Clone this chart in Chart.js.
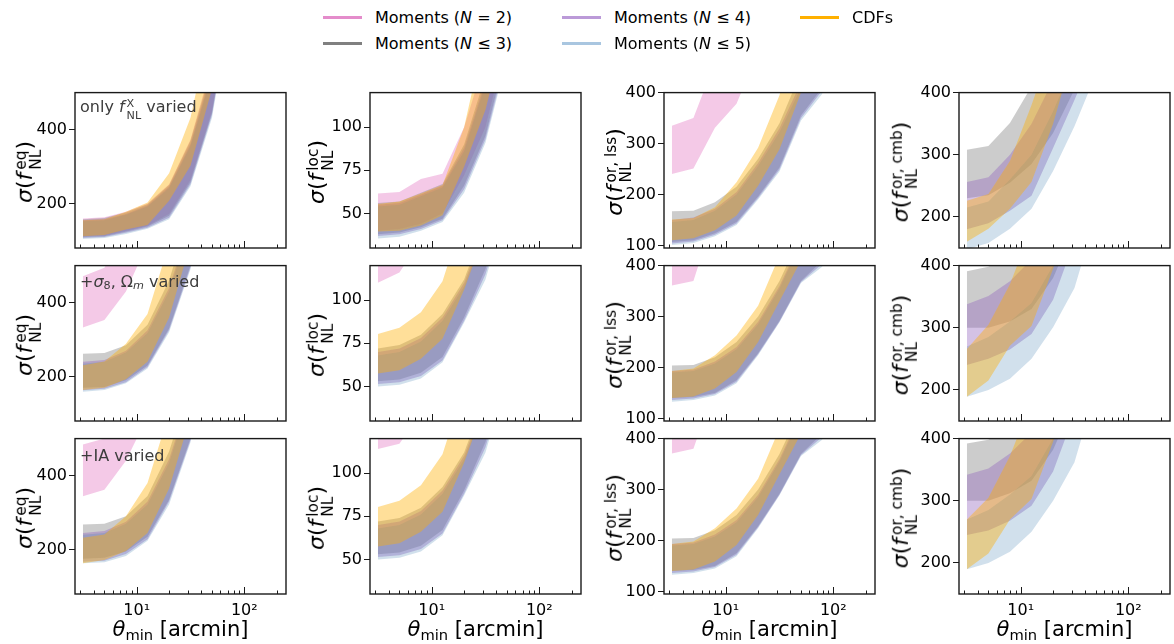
<!DOCTYPE html>
<html>
<head>
<meta charset="utf-8">
<script src="https://cdn.jsdelivr.net/npm/chart.js@4.4.1/dist/chart.umd.min.js"></script>
<style>
  body { margin: 0; background: #fff; width: 1174px; height: 644px; position: relative; overflow: hidden;
         font-family: "DejaVu Sans", sans-serif; color: #000; }
  canvas { position: absolute; }
  .t { position: absolute; white-space: nowrap; }
  .ss { display: inline-flex; flex-direction: column; font-size: 0.7em; line-height: 1; vertical-align: 0.42em; margin-left: 3px; }
  .sb { font-size: 0.7em; vertical-align: -0.25em; }
  .ylab { font-size: 22px; transform: translate(-50%, -50%) rotate(-90deg); }
  .xlab { font-size: 21px; transform: translate(-50%, -50%); }
  .note { font-size: 16px; color: #3c3c3c; transform: translateY(-50%); }
  .note .ss { margin-left: 2px; }
  .leg { font-size: 16px; transform: translateY(-50%); }
  .swatch { position: absolute; height: 3px; width: 39px; }
</style>
</head>
<body>
<script>
// theta_min grid (arcmin)
const thetaMin = [3.16, 5.01, 7.94, 12.6, 20, 31.6, 50.1, 79.4];

// series order in every panel: Moments N=2, N<=3, N<=4, N<=5, CDFs
const seriesLabels = ['Moments (<i>N</i> = 2)', 'Moments (<i>N</i> ≤ 3)', 'Moments (<i>N</i> ≤ 4)', 'Moments (<i>N</i> ≤ 5)', 'CDFs'];

// ---- row 1: only f_NL varied ----
const eqOnlyLo = [
  [112, 114, 126, 140, 172, 264, 450, 800],
  [110, 112, 124, 138, 167, 258, 445, 790],
  [107, 110, 121, 135, 162, 252, 440, 780],
  [104, 107, 118, 132, 158, 247, 432, 770],
  [112, 115, 130, 142, 208, 302, 510, 880]];
const eqOnlyHi = [
  [160, 163, 178, 200, 252, 373, 580, 950],
  [158, 161, 176, 198, 250, 370, 570, 930],
  [155, 158, 172, 195, 246, 362, 560, 910],
  [152, 155, 170, 192, 242, 356, 550, 900],
  [155, 158, 178, 203, 282, 432, 700, 1100]];

const locOnlyLo = [
  [40, 41, 44, 50, 72, 100, 150, 230],
  [38, 39, 42, 47, 66, 95, 145, 220],
  [37, 38, 41, 46, 64, 93, 142, 215],
  [35.5, 36.5, 40, 45, 62, 91, 140, 210],
  [39.5, 40, 43, 49, 77, 110, 160, 240]];
const locOnlyHi = [
  [61.5, 62.5, 70, 73, 100, 140, 200, 300],
  [56, 57, 62, 67, 90, 130, 190, 280],
  [55, 56, 61, 66, 88, 127, 185, 270],
  [54, 55, 60, 65, 86, 125, 180, 265],
  [55.5, 57, 61.5, 66.5, 100, 155, 220, 320]];

const lssOnlyLo = [
  [240, 251, 331, 378, 480, 600, 800, 1000],
  [107, 110, 124, 146, 196, 253, 355, 410],
  [104, 108, 121, 143, 193, 249, 350, 405],
  [101, 105, 118, 140, 190, 245, 345, 398],
  [110, 114, 130, 159, 217, 289, 400, 550]];
const lssOnlyHi = [
  [335, 350, 460, 520, 650, 800, 1000, 1200],
  [167, 168, 185, 215, 270, 340, 440, 580],
  [150, 155, 172, 205, 262, 330, 420, 560],
  [146, 150, 168, 200, 256, 322, 410, 550],
  [151, 154, 175, 224, 292, 395, 560, 760]];

const cmbOnlyLo = [
  [420, 450, 520, 600, 700, 800, 900, 1000],
  [230, 235, 255, 285, 335, 405, 480, 560],
  [180, 190, 210, 234, 311, 388, 470, 560],
  [148, 158, 181, 213, 274, 346, 430, 520],
  [160, 181, 213, 256, 350, 470, 560, 660]];
const cmbOnlyHi = [
  [520, 560, 640, 720, 820, 920, 1020, 1120],
  [308, 314, 351, 410, 500, 600, 700, 800],
  [256, 264, 300, 350, 420, 500, 600, 700],
  [215, 225, 260, 300, 370, 450, 550, 650],
  [226, 237, 290, 380, 480, 580, 680, 780]];

// ---- row 2: + sigma8, Omega_m varied ----
const eqS8Lo = [
  [333, 353, 430, 560, 700, 900, 1100, 1300],
  [170, 172, 190, 230, 330, 500, 800, 1100],
  [163, 167, 185, 226, 325, 495, 790, 1100],
  [159, 164, 182, 222, 320, 490, 780, 1100],
  [164, 170, 193, 240, 360, 560, 800, 1100]];
const eqS8Hi = [
  [471, 494, 600, 750, 900, 1100, 1300, 1500],
  [262, 264, 285, 340, 460, 650, 900, 1200],
  [240, 245, 270, 325, 440, 620, 880, 1150],
  [235, 240, 265, 318, 430, 610, 860, 1130],
  [231, 241, 289, 369, 560, 800, 1100, 1400]];

const locS8Lo = [
  [110, 116, 135, 155, 175, 200, 240, 290],
  [53, 54, 58, 67, 90, 118, 160, 210],
  [51.5, 52.5, 56, 65, 88, 115, 157, 205],
  [50, 51, 54.6, 64, 87, 112, 155, 200],
  [57.5, 59.4, 66, 77.6, 106, 140, 190, 250]];
const locS8Hi = [
  [140, 150, 165, 180, 200, 230, 270, 320],
  [72, 74, 80, 92, 112, 145, 190, 240],
  [70, 72, 78, 90, 110, 142, 185, 235],
  [68, 70, 76, 88, 108, 140, 182, 230],
  [80.4, 84, 93, 111, 150, 200, 260, 330]];

const lssS8Lo = [
  [361, 370, 500, 600, 700, 800, 1000, 1200],
  [140, 142, 150, 175, 228, 292, 370, 410],
  [136, 139, 148, 172, 226, 290, 368, 404],
  [133, 136, 145, 169, 224, 289, 366, 398],
  [140, 143, 159, 191, 250, 330, 410, 520]];
const lssS8Hi = [
  [480, 500, 600, 700, 800, 950, 1150, 1400],
  [204, 205, 220, 250, 300, 370, 460, 560],
  [193, 196, 212, 240, 290, 360, 450, 550],
  [190, 193, 208, 236, 285, 355, 445, 540],
  [193, 198, 224, 263, 321, 420, 540, 680]];

const cmbS8Lo = [
  [450, 480, 540, 620, 700, 800, 900, 1000],
  [300, 300, 310, 330, 380, 460, 540, 620],
  [240, 250, 265, 290, 345, 440, 520, 600],
  [189, 200, 218, 250, 301, 364, 480, 560],
  [189, 215, 271, 303, 395, 500, 600, 700]];
const cmbS8Hi = [
  [560, 600, 660, 740, 820, 920, 1020, 1120],
  [391, 398, 420, 480, 560, 640, 720, 800],
  [338, 351, 375, 410, 480, 560, 640, 720],
  [270, 285, 310, 340, 400, 470, 560, 650],
  [266, 305, 370, 460, 560, 660, 760, 860]];

// ---- row 3: + IA varied ----
const eqIALo = [
  [344, 362, 440, 560, 700, 900, 1100, 1300],
  [175, 178, 195, 235, 335, 500, 800, 1100],
  [167, 170, 188, 228, 330, 495, 790, 1100],
  [163, 166, 183, 224, 322, 490, 780, 1100],
  [163, 172, 196, 245, 365, 560, 800, 1100]];
const eqIAHi = [
  [484, 500, 600, 750, 900, 1100, 1300, 1500],
  [268, 270, 290, 345, 465, 650, 900, 1200],
  [245, 250, 275, 330, 445, 625, 880, 1150],
  [240, 245, 270, 322, 435, 615, 860, 1130],
  [232, 241, 290, 380, 570, 800, 1100, 1400]];

const locIALo = [
  [114, 117, 135, 155, 175, 200, 240, 290],
  [53, 54, 58, 67, 90, 118, 160, 210],
  [51.5, 52.5, 56, 65, 88, 115, 157, 205],
  [50, 51, 54.6, 64, 87, 112, 155, 200],
  [57.5, 59.4, 66, 77.6, 106, 140, 190, 250]];
const locIAHi = [
  [140, 150, 165, 180, 200, 230, 270, 320],
  [72, 74, 80, 92, 112, 145, 190, 240],
  [70, 72, 78, 90, 110, 142, 185, 235],
  [68, 70, 76, 88, 108, 140, 182, 230],
  [80.4, 84, 93, 111, 150, 200, 260, 330]];

const lssIALo = [
  [371, 380, 500, 600, 700, 800, 1000, 1200],
  [140, 142, 150, 175, 228, 292, 370, 410],
  [136, 139, 148, 172, 226, 290, 368, 404],
  [133, 136, 145, 169, 224, 289, 366, 398],
  [140, 143, 159, 191, 250, 330, 410, 520]];
const lssIAHi = [
  [480, 500, 600, 700, 800, 950, 1150, 1400],
  [204, 205, 220, 250, 300, 370, 460, 560],
  [193, 196, 212, 240, 290, 360, 450, 550],
  [190, 193, 208, 236, 285, 355, 445, 540],
  [193, 198, 224, 263, 321, 420, 540, 680]];

const cmbIALo = [
  [450, 480, 540, 620, 700, 800, 900, 1000],
  [300, 300, 312, 332, 382, 460, 540, 620],
  [245, 252, 268, 292, 347, 440, 520, 600],
  [190, 200, 218, 250, 300, 362, 480, 560],
  [190, 215, 270, 303, 395, 500, 600, 700]];
const cmbIAHi = [
  [560, 600, 660, 740, 820, 920, 1020, 1120],
  [392, 398, 420, 480, 560, 640, 720, 800],
  [342, 352, 376, 410, 480, 560, 640, 720],
  [270, 285, 310, 340, 400, 470, 560, 650],
  [270, 305, 372, 460, 560, 660, 760, 860]];

// axis ticks / limits
const eqTicks = [200, 400];
const locTicks = [50, 75, 100];
const lssTicks = [100, 200, 300, 400];
const cmbTicks = [200, 300, 400];
const xTickVals = [10, 100];
const xTickLabels = ['10¹', '10²'];
const xMinorVals = [3, 4, 5, 6, 7, 8, 9, 20, 30, 40, 50, 60, 70, 80, 90, 200];

const fillColors = ['rgba(227,119,194,0.4)', 'rgba(127,127,127,0.4)', 'rgba(148,103,189,0.4)',
                    'rgba(70,130,180,0.25)', 'rgba(255,176,0,0.4)'];
const legendColors = ['#e48ccb', '#808080', '#bb9ad8', '#a9c6e0', '#ffb000'];

// layout
const plotLefts = [75, 370, 664, 959];
const plotTops = [91, 264, 437];
const plotW = 211, plotH = 157;
const padL = 50, padT = 10, padR = 8, padB = 35;

const colRange = [[80, 500], [30, 120], [95, 400], [150, 400]];
const colTicks = [eqTicks, locTicks, lssTicks, cmbTicks];
const colSup = ['eq', 'loc', 'or, lss', 'or, cmb'];
const colLabelX = [28, 320, 618, 904];
const panelData = [
  [[eqOnlyLo, eqOnlyHi], [locOnlyLo, locOnlyHi], [lssOnlyLo, lssOnlyHi], [cmbOnlyLo, cmbOnlyHi]],
  [[eqS8Lo, eqS8Hi], [locS8Lo, locS8Hi], [lssS8Lo, lssS8Hi], [cmbS8Lo, cmbS8Hi]],
  [[eqIALo, eqIAHi], [locIALo, locIAHi], [lssIALo, lssIAHi], [cmbIALo, cmbIAHi]]];
const rowNotes = [
  'only <i>f</i><span class="ss"><span>X</span><span>NL</span></span> varied',
  '+<i>σ</i><span class="sb">8</span>, Ω<span class="sb"><i>m</i></span> varied',
  '+IA varied'];

Chart.defaults.font.family = "'DejaVu Sans', sans-serif";
Chart.defaults.color = '#000';

const framePlugin = {
  id: 'frame',
  afterDraw(chart) {
    const ctx = chart.ctx, a = chart.chartArea, x = chart.scales.x;
    ctx.save();
    ctx.strokeStyle = '#1a1a1a';
    ctx.lineWidth = 1;
    ctx.beginPath();
    xMinorVals.forEach(v => {
      const px = Math.round(x.getPixelForValue(v)) + 0.5;
      ctx.moveTo(px, a.bottom); ctx.lineTo(px, a.bottom - 3.5);
    });
    xTickVals.forEach(v => {
      const px = Math.round(x.getPixelForValue(v)) + 0.5;
      ctx.moveTo(px, a.bottom); ctx.lineTo(px, a.bottom - 7);
    });
    ctx.stroke();
    ctx.lineWidth = 1.4;
    ctx.strokeRect(a.left, a.top, a.right - a.left, a.bottom - a.top);
    ctx.restore();
  }
};

function addText(html, cls, left, top) {
  const d = document.createElement('div');
  d.className = 't ' + cls;
  d.innerHTML = html;
  d.style.left = left + 'px';
  d.style.top = top + 'px';
  document.body.appendChild(d);
}

panelData.forEach((rowPanels, r) => {
  rowPanels.forEach((pair, c) => {
    const [lo, hi] = pair;
    const cv = document.createElement('canvas');
    cv.width = padL + plotW + padR;
    cv.height = padT + plotH + padB;
    cv.style.left = (plotLefts[c] - padL) + 'px';
    cv.style.top = (plotTops[r] - padT) + 'px';
    document.body.appendChild(cv);

    // draw order: CDFs on top, Moments N=2 at the bottom
    const datasets = [];
    [4, 3, 2, 1, 0].forEach(s => {
      datasets.push({
        data: thetaMin.map((t, i) => ({ x: t, y: lo[s][i] })),
        borderWidth: 0, pointRadius: 0, fill: false
      });
      datasets.push({
        data: thetaMin.map((t, i) => ({ x: t, y: hi[s][i] })),
        borderWidth: 0, pointRadius: 0, fill: '-1', backgroundColor: fillColors[s]
      });
    });

    const isBottom = r === 2;
    new Chart(cv.getContext('2d'), {
      type: 'line',
      data: { datasets },
      options: {
        responsive: false,
        animation: false,
        events: [],
        layout: { padding: { left: 0, top: padT, right: padR, bottom: 0 } },
        plugins: { legend: { display: false }, tooltip: { enabled: false }, filler: { propagate: false } },
        scales: {
          x: {
            type: 'logarithmic', min: 2.67, max: 244,
            afterBuildTicks: s => { s.ticks = xTickVals.map(v => ({ value: v })); },
            afterFit: s => { s.height = padB; },
            grid: { display: false, drawTicks: false },
            border: { display: false },
            ticks: {
              display: isBottom, padding: 7, autoSkip: false, maxRotation: 0,
              font: { size: 16 }, color: '#000',
              callback: v => xTickLabels[xTickVals.indexOf(v)]
            }
          },
          y: {
            type: 'linear', min: colRange[c][0], max: colRange[c][1],
            afterBuildTicks: s => { s.ticks = colTicks[c].map(v => ({ value: v })); },
            afterFit: s => { s.width = padL; },
            grid: { drawOnChartArea: false, tickLength: 6, color: '#1a1a1a', lineWidth: 1 },
            border: { display: false },
            ticks: { padding: 2, font: { size: 16 }, color: '#000' }
          }
        }
      },
      plugins: [framePlugin]
    });

    // y axis title
    addText('<i>σ</i>(<i>f</i><span class="ss"><span>' + colSup[c] + '</span><span>NL</span></span>)',
            'ylab', colLabelX[c], plotTops[r] + plotH / 2 + 2);
    // x axis title on bottom row
    if (isBottom) {
      addText('<i>θ</i><span class="sb">min</span> [arcmin]', 'xlab', plotLefts[c] + plotW / 2, 630);
    }
  });
  addText(rowNotes[r], 'note', plotLefts[0] + 5, plotTops[r] + 18);
});

// legend
const legendPos = [[323, 17], [323, 43], [562, 17], [562, 43], [800, 17]];
legendPos.forEach(([lx, ly], s) => {
  const sw = document.createElement('div');
  sw.className = 'swatch';
  sw.style.left = lx + 'px';
  sw.style.top = (ly - 1.5) + 'px';
  sw.style.background = legendColors[s];
  document.body.appendChild(sw);
  addText(seriesLabels[s], 'leg', lx + 52, ly);
});
</script>
</body>
</html>
